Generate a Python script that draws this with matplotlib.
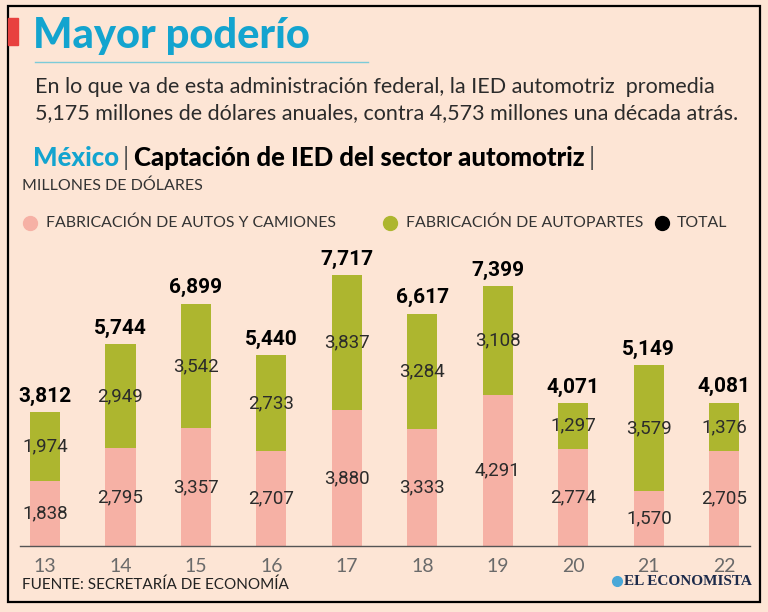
import matplotlib
matplotlib.use('Agg')
import matplotlib.pyplot as plt
from matplotlib.patches import Rectangle
from matplotlib.lines import Line2D

years = ['13', '14', '15', '16', '17', '18', '19', '20', '21', '22']
autos = [1838, 2795, 3357, 2707, 3880, 3333, 4291, 2774, 1570, 2705]
autopartes = [1974, 2949, 3542, 2733, 3837, 3284, 3108, 1297, 3579, 1376]
totals = [3812, 5744, 6899, 5440, 7717, 6617, 7399, 4071, 5149, 4081]

BG = '#fde5d5'
PINK = '#f6b1a5'
GREEN = '#adb62f'
BLUE = '#13a4cf'
SANS = ['Lato', 'DejaVu Sans']
NUM = ['Roboto', 'DejaVu Sans']

fig = plt.figure(figsize=(7.68, 6.12), dpi=100)
fig.patch.set_facecolor(BG)

W, H = 768.0, 612.0


def fx(px):
    return px / W


def fy(py):
    return 1 - py / H


def right_edge(t):
    fig.canvas.draw()
    return t.get_window_extent().x1 / fig.bbox.width


# frame and red mark
fig.add_artist(Rectangle((fx(8), fy(602)), fx(752), (602 - 6) / H, fill=False,
                         edgecolor='black', linewidth=1.6, transform=fig.transFigure))
fig.add_artist(Rectangle((fx(8), fy(45)), fx(10), 27 / H, color='#e8413f',
                         transform=fig.transFigure))

fig.text(fx(33), fy(36), 'Mayor poderío', color=BLUE, fontsize=30, fontweight='black',
         family=SANS, va='center')
fig.add_artist(Line2D([fx(35), fx(368)], [fy(62), fy(62)], color='#7ccbd8', linewidth=1,
                      transform=fig.transFigure))

fig.text(fx(35), fy(87), 'En lo que va de esta administración federal, la IED automotriz  promedia',
         fontsize=15.5, color='#2b2b2b', family=SANS, va='center')
fig.text(fx(35), fy(113), '5,175 millones de dólares anuales, contra 4,573 millones una década atrás.',
         fontsize=15.5, color='#2b2b2b', family=SANS, va='center')

t = fig.text(fx(33), fy(158), 'México', fontsize=18.5, fontweight='black', color=BLUE,
             family=SANS, va='center')
t = fig.text(right_edge(t) + 0.005, fy(158), '|', fontsize=18, color='#555555',
             family=SANS, va='center')
t = fig.text(right_edge(t) + 0.006, fy(158), 'Captación de IED del sector automotriz',
             fontsize=18.5, fontweight='black', color='black', family=SANS, va='center')
fig.text(right_edge(t) + 0.006, fy(158), '|', fontsize=18, color='#555555',
         family=SANS, va='center')

fig.text(fx(22), fy(186), 'MILLONES DE DÓLARES', fontsize=11.5, color='#333333', family=SANS,
         va='center')

# legend
legend_items = [(30, 46, PINK, 'FABRICACIÓN DE AUTOS Y CAMIONES'),
                (390, 406, GREEN, 'FABRICACIÓN DE AUTOPARTES'),
                (662, 677, 'black', 'TOTAL')]
for cx, tx, col, lab in legend_items:
    fig.add_artist(Line2D([fx(cx)], [fy(223)], marker='o', markersize=10, color=col,
                          linestyle='none', transform=fig.transFigure))
    fig.text(fx(tx), fy(223), lab, fontsize=11.4, color='#333333', family=SANS, va='center')

# chart
ax = fig.add_axes([fx(20), fy(546), fx(730), 316 / H])
ax.set_facecolor('none')
x = list(range(len(years)))
ax.bar(x, autos, width=0.4, color=PINK)
ax.bar(x, autopartes, width=0.4, bottom=autos, color=GREEN)
for i in x:
    ax.text(i, autos[i] / 2, f'{autos[i]:,}', ha='center', va='center', fontsize=13.5,
            color='#2b2b2b', family=NUM)
    ax.text(i, autos[i] + autopartes[i] / 2, f'{autopartes[i]:,}', ha='center', va='center',
            fontsize=13.5, color='#2b2b2b', family=NUM)
    ax.text(i, totals[i] + 180, f'{totals[i]:,}', ha='center', va='bottom', fontsize=15,
            fontweight='bold', color='black', family=NUM)

ax.set_xlim(-0.33, 9.34)
ax.set_ylim(0, 9000)
ax.set_xticks(x)
ax.set_xticklabels(years, fontsize=14, color='#6a6a6a', family=SANS)
ax.tick_params(axis='x', length=0, pad=9)
ax.set_yticks([])
for s in ['top', 'left', 'right']:
    ax.spines[s].set_visible(False)
ax.spines['bottom'].set_color('#555555')
ax.spines['bottom'].set_linewidth(1)

fig.text(fx(22), fy(585), 'FUENTE: SECRETARÍA DE ECONOMÍA', fontsize=11, color='#222222',
         family=SANS, va='center')
logo = fig.text(fx(752), fy(585), 'EL ECONOMISTA', fontsize=11, fontweight='bold',
                color='#1c2a4a', family=['Liberation Serif', 'DejaVu Serif'], va='baseline',
                ha='right')
fig.canvas.draw()
lb = logo.get_window_extent()
fig.add_artist(Line2D([(lb.x0 - 7) / fig.bbox.width], [fy(585) + 4.5 / H],
                      marker='o', markersize=7, color='#4aa8d8', linestyle='none',
                      transform=fig.transFigure))

fig.savefig('out.png', dpi=100, facecolor=BG)
